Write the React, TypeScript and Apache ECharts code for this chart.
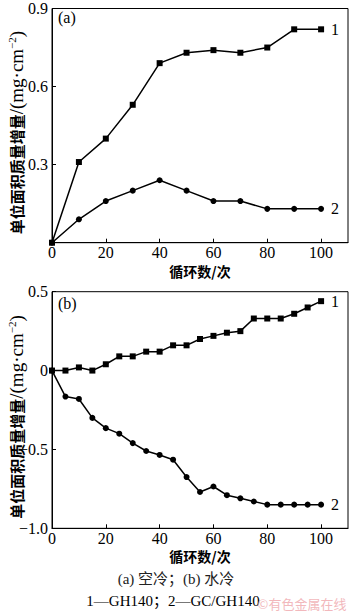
import React, { useEffect, useRef } from "react";
import * as echarts from "echarts";

const cyclesA = [0, 10, 20, 30, 40, 50, 60, 70, 80, 90, 100];
const gh140A = [0, 0.31, 0.4, 0.53, 0.69, 0.73, 0.74, 0.73, 0.75, 0.82, 0.82];
const gcA = [0, 0.09, 0.16, 0.2, 0.24, 0.2, 0.16, 0.16, 0.13, 0.13, 0.13];

const cyclesB = [0, 5, 10, 15, 20, 25, 30, 35, 40, 45, 50, 55, 60, 65, 70, 75, 80, 85, 90, 95, 100];
const gh140B = [0, 0, 0.02, 0, 0.04, 0.09, 0.09, 0.12, 0.12, 0.16, 0.16, 0.2, 0.22, 0.24, 0.25, 0.33, 0.33, 0.33, 0.36, 0.4, 0.44];
const gcB = [0, -0.165, -0.18, -0.3, -0.365, -0.4, -0.46, -0.51, -0.535, -0.565, -0.675, -0.77, -0.735, -0.79, -0.81, -0.83, -0.85, -0.85, -0.85, -0.85, -0.85];

const xTicks = [0, 20, 40, 60, 80, 100];
const yTicksA = [0, 0.3, 0.6, 0.9];
const yTicksB = [-1.0, -0.5, 0, 0.5];

const xName = "循环数/次";
const yNameCJK = "单位面积质量增量";
const yNameUnit = "/(mg·cm";
const curveNames = ["1", "2"];
const caption1 = "(a) 空冷；(b) 水冷";
const caption2 = "1—GH140；2—GC/GH140";
const watermark = "©有色金属在线";

const FONT = "'Liberation Serif', 'Times New Roman', 'Noto Sans CJK SC', serif";
const CJK = "'Noto Sans CJK SC', sans-serif";

function mkData(xs: number[], ys: number[], tag: string) {
  return xs.map((x, i) => {
    if (i === xs.length - 1) {
      return {
        value: [x, ys[i]],
        label: {
          show: true,
          position: "right",
          distance: 7,
          formatter: tag,
          color: "#000",
          fontSize: 16,
          fontFamily: FONT,
        },
      };
    }
    return { value: [x, ys[i]] };
  });
}

export default function App() {
  const ref = useRef<HTMLDivElement>(null);
  useEffect(() => {
    document.body.style.margin = "0";
    const chart = echarts.init(ref.current!, null, { renderer: "svg" });
    const fmt = (v: number) => {
      if (Math.abs(v) < 1e-9) return "0";
      return (v < 0 ? "−" : "") + Math.abs(v).toFixed(1);
    };
    const yName = "{c|" + yNameCJK + "}{a|" + yNameUnit + "}{s|−2}{a|)}";
    const yNameStyle = {
      padding: [0, 14, 0, 0],
      rich: {
        c: { fontSize: 15, fontWeight: "bold", fontFamily: CJK, color: "#000" },
        a: { fontSize: 19, fontFamily: FONT, color: "#000" },
        s: { fontSize: 11, fontFamily: FONT, color: "#000", verticalAlign: "top", padding: [0, 0, 9, 0] },
      },
    };
    const axisLineStyle = { show: true, onZero: false, lineStyle: { color: "#000", width: 1 } };
    const mkX = (gi: number) => ({
      type: "value",
      gridIndex: gi,
      min: 0,
      max: 110,
      interval: 20,
      name: xName,
      nameLocation: "middle",
      nameGap: 21,
      nameMoveOverlap: false,
      nameTextStyle: { fontSize: 14, fontWeight: "bold", fontFamily: CJK, color: "#000" },
      axisLine: axisLineStyle,
      axisTick: { show: true, inside: true, length: 4, lineStyle: { color: "#000" } },
      axisLabel: {
        showMaxLabel: false,
        fontSize: 16,
        fontFamily: FONT,
        color: "#000",
        margin: 2,
        formatter: (v: number) => (xTicks.includes(v) ? String(v) : ""),
      },
      splitLine: { show: false },
    });
    const mkY = (gi: number, min: number, max: number, interval: number, showMin: boolean) => ({
      type: "value",
      gridIndex: gi,
      min,
      max,
      interval,
      name: yName,
      nameLocation: "middle",
      nameGap: 26,
      nameMoveOverlap: false,
      nameRotate: 90,
      nameTextStyle: yNameStyle,
      axisLine: axisLineStyle,
      axisTick: { show: true, inside: true, length: 4, lineStyle: { color: "#000" } },
      axisLabel: {
        showMinLabel: showMin,
        fontSize: 16,
        fontFamily: FONT,
        color: "#000",
        margin: 4,
        formatter: fmt,
      },
      splitLine: { show: false },
    });
    const lineSeries = (xi: number, xs: number[], ys: number[], sym: string, tag: string) => ({
      type: "line",
      xAxisIndex: xi,
      yAxisIndex: xi,
      data: mkData(xs, ys, tag),
      symbol: sym,
      symbolSize: 6,
      showAllSymbol: true,
      lineStyle: { color: "#000", width: 1.5 },
      itemStyle: { color: "#000" },
      silent: true,
    });
    const gridBase = { left: 52, width: 296, show: true, borderColor: "#000", borderWidth: 1, containLabel: false, outerBoundsMode: "none" };
    chart.setOption({
      animation: false,
      backgroundColor: "#fff",
      grid: [
        { ...gridBase, top: 8.5, height: 234.2 },
        { ...gridBase, top: 291.7, height: 236.6 },
      ],
      xAxis: [mkX(0), mkX(1)],
      yAxis: [mkY(0, yTicksA[0], yTicksA[3], 0.3, false), mkY(1, yTicksB[0], yTicksB[3], 0.5, true)],
      series: [
        lineSeries(0, cyclesA, gh140A, "rect", curveNames[0]),
        lineSeries(0, cyclesA, gcA, "circle", curveNames[1]),
        lineSeries(1, cyclesB, gh140B, "rect", curveNames[0]),
        lineSeries(1, cyclesB, gcB, "circle", curveNames[1]),
      ],
      graphic: [
        { type: "text", x: 58, y: 17, style: { text: "(a)", fontSize: 16, fontFamily: FONT, fill: "#000", verticalAlign: "middle" } },
        { type: "text", x: 58, y: 303, style: { text: "(b)", fontSize: 16, fontFamily: FONT, fill: "#000", verticalAlign: "middle" } },
        { type: "text", x: 176, y: 579, style: { text: caption1, fontSize: 15, fontFamily: FONT, fill: "#222", align: "center", verticalAlign: "middle" } },
        { type: "text", x: 173, y: 601, style: { text: caption2, fontSize: 15, fontFamily: FONT, fill: "#000", align: "center", verticalAlign: "middle" } },
        { type: "text", x: 302, y: 603, style: { text: watermark, fontSize: 13, fontFamily: CJK, fill: "#f2b8bc", align: "center", verticalAlign: "middle" } },
      ],
    });
    return () => chart.dispose();
  }, []);
  return <div ref={ref} style={{ position: "absolute", left: 0, top: 0, width: 350, height: 614 }} />;
}
